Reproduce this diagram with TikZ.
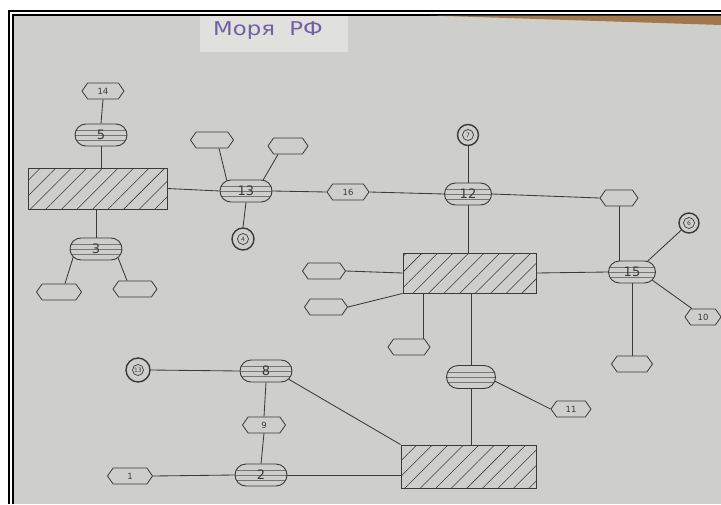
\documentclass[tikz,border=0pt]{standalone}
\usepackage{fontspec}
\setmainfont{DejaVu Sans}
\usepackage{graphicx}
\usetikzlibrary{shapes.misc,shapes.symbols,patterns.meta,calc}
\definecolor{paper}{RGB}{206,206,202}
\definecolor{ink}{RGB}{58,58,58}
\definecolor{titleink}{RGB}{112,96,165}
\definecolor{tablewood}{RGB}{160,120,75}
\definecolor{notepaper}{RGB}{224,224,220}
\tikzset{
  conn/.style={draw=ink, line width=0.85pt},
  hexa/.style={shape=signal, signal to=east and west, signal pointer angle=110,
    draw=ink, line width=0.8pt, minimum width=42pt, minimum height=16pt,
    inner sep=0pt, font=\fontsize{8.5}{8.5}\selectfont, text=ink},
  caps/.style={rounded rectangle, draw=ink, line width=0.9pt, minimum width=52pt,
    minimum height=22pt, inner sep=0pt, font=\fontsize{13}{13}\selectfont, text=ink,
    path picture={\foreach \f in {0.28,0.5,0.72}{
      \draw[ink!70,line width=0.45pt]
        ($(path picture bounding box.south west)!\f!(path picture bounding box.north west)$) --
        ($(path picture bounding box.south east)!\f!(path picture bounding box.north east)$);}}},
  hatch/.style={rectangle, draw=ink, line width=0.9pt, inner sep=0pt,
    pattern={Lines[angle=45,distance=11pt,line width=0.55pt]}, pattern color=ink},
  dot/.style={circle, draw=ink, line width=1.4pt, minimum size=22pt, inner sep=0pt,
    font=\fontsize{6}{6}\selectfont, text=ink,
    path picture={\draw[ink,line width=0.7pt] (path picture bounding box.center) circle (5.5pt);}}
}
\begin{document}
\begin{tikzpicture}[x=1pt,y=-1pt]
% background and frame
\fill[white] (0,0) rectangle (721,504);
\useasboundingbox (0,0) rectangle (721,504);
\fill[black] (8,10) rectangle (721,504);
\fill[white] (10.3,12.3) rectangle (721,504);
\fill[black] (12,14) rectangle (721,504);
\fill[paper] (13.5,15.5) rectangle (721,504);
\fill[tablewood] (430,15.5) -- (721,15.5) -- (721,25) -- cycle;
% title
\node[fill=notepaper, minimum width=148pt, minimum height=36pt, inner sep=0pt] (T) at (274,34) {};
\node[text=titleink, font=\fontsize{19}{19}\selectfont] (TT) at (268,31) {\scalebox{1.2}[1]{Моря\ \ РФ}};

% blocks
\node[hatch, minimum width=139pt, minimum height=41pt] (A) at (97.5,188.5) {};
\node[hatch, minimum width=133pt, minimum height=40pt] (B) at (469.5,273) {};
\node[hatch, minimum width=135pt, minimum height=43pt] (C) at (468.5,466.5) {};

% left group
\node[hexa] (n14) at (103,91) {14};
\node[caps] (n5) at (101,135) {5};
\node[caps] (n3) at (96,249) {3};
\node[hexa, minimum width=45pt] (hA) at (59,292) {};
\node[hexa, minimum width=44pt] (hB) at (135,289) {};
\node[caps] (n13) at (246,191) {13};
\node[hexa, minimum width=43pt] (hC) at (212,140) {};
\node[hexa, minimum width=40pt] (hD) at (288,146) {};
\node[dot] (c4) at (243,239) {4};
\node[hexa] (n16) at (348,192) {16};

% middle-right group
\node[caps, minimum width=47pt] (n12) at (468,194) {12};
\node[dot, minimum size=21pt] (c7) at (468,135) {7};
\node[hexa, minimum width=38pt] (hE) at (619,198) {};
\node[hexa, minimum width=43pt] (hF) at (324,271) {};
\node[hexa, minimum width=43pt] (hG) at (326,307) {};
\node[hexa, minimum width=42pt] (hH) at (409,347) {};
\node[caps, minimum width=47pt] (n15) at (632,272) {15};
\node[dot, minimum size=20pt] (c6) at (689,223) {6};
\node[hexa, minimum width=36pt] (n10) at (703,317) {10};
\node[hexa, minimum width=41pt] (hI) at (632,364) {};

% bottom group
\node[dot, minimum size=24pt] (c13) at (138,370) {13};
\node[caps] (n8) at (266,371) {8};
\node[hexa, minimum width=43pt] (n9) at (264,425) {9};
\node[caps] (n2) at (261,475) {2};
\node[hexa, minimum width=45pt] (n1) at (130,476) {1};
\node[caps, minimum width=49pt, minimum height=23pt] (nX) at (471,377) {};
\node[hexa, minimum width=40pt] (n11) at (571,409) {11};

% connectors
\draw[conn] (n14.south) -- (n5.north);
\draw[conn] (n5.south) -- (n5.south |- A.north);
\draw[conn] (n3.north |- A.south) -- (n3.north);
\draw[conn] (n3.200) -- ([xshift=6pt]hA.north);
\draw[conn] (n3.338) -- ([xshift=-8pt]hB.north);
\draw[conn] (A.east) -- (n13.west);
\draw[conn] (n13.151) -- ([xshift=7pt]hC.south);
\draw[conn] (n13.33) -- ([xshift=-10pt]hD.south);
\draw[conn] (n13.south) -- (c4.north);
\draw[conn] (n13.east) -- (n16.west);
\draw[conn] (n16.east) -- (n12.west);
\draw[conn] (c7.south) -- (n12.north);
\draw[conn] (n12.east) -- (hE.west);
\draw[conn] (n12.south) -- (n12.south |- B.north);
\draw[conn] (hF.east) -- (B.west);
\draw[conn] (hG.east) -- (B.south west);
\draw[conn] ([xshift=14pt]hH.north) -- ([xshift=14pt]hH.north |- B.south);
\draw[conn] (nX.north |- B.south) -- (nX.north);
\draw[conn] (B.east) -- (n15.west);
\draw[conn] (hE.south) -- (hE.south |- n15.north);
\draw[conn] (n15.35) -- (c6);
\draw[conn] (n15.338) -- ([xshift=-11pt]n10.north);
\draw[conn] (n15.south) -- (hI.north);
\draw[conn] (c13.east) -- (n8.west);
\draw[conn] (n8.south) -- (n9.north);
\draw[conn] (n9.south) -- (n2.north);
\draw[conn] (n1.east) -- (n2.west);
\draw[conn] (n2.east) -- (n2.east -| C.west);
\draw[conn] (n8.340) -- (C.north west);
\draw[conn] (nX.south) -- (nX.south |- C.north);
\draw[conn] (nX.350) -- (n11.west);
\end{tikzpicture}
\end{document}
